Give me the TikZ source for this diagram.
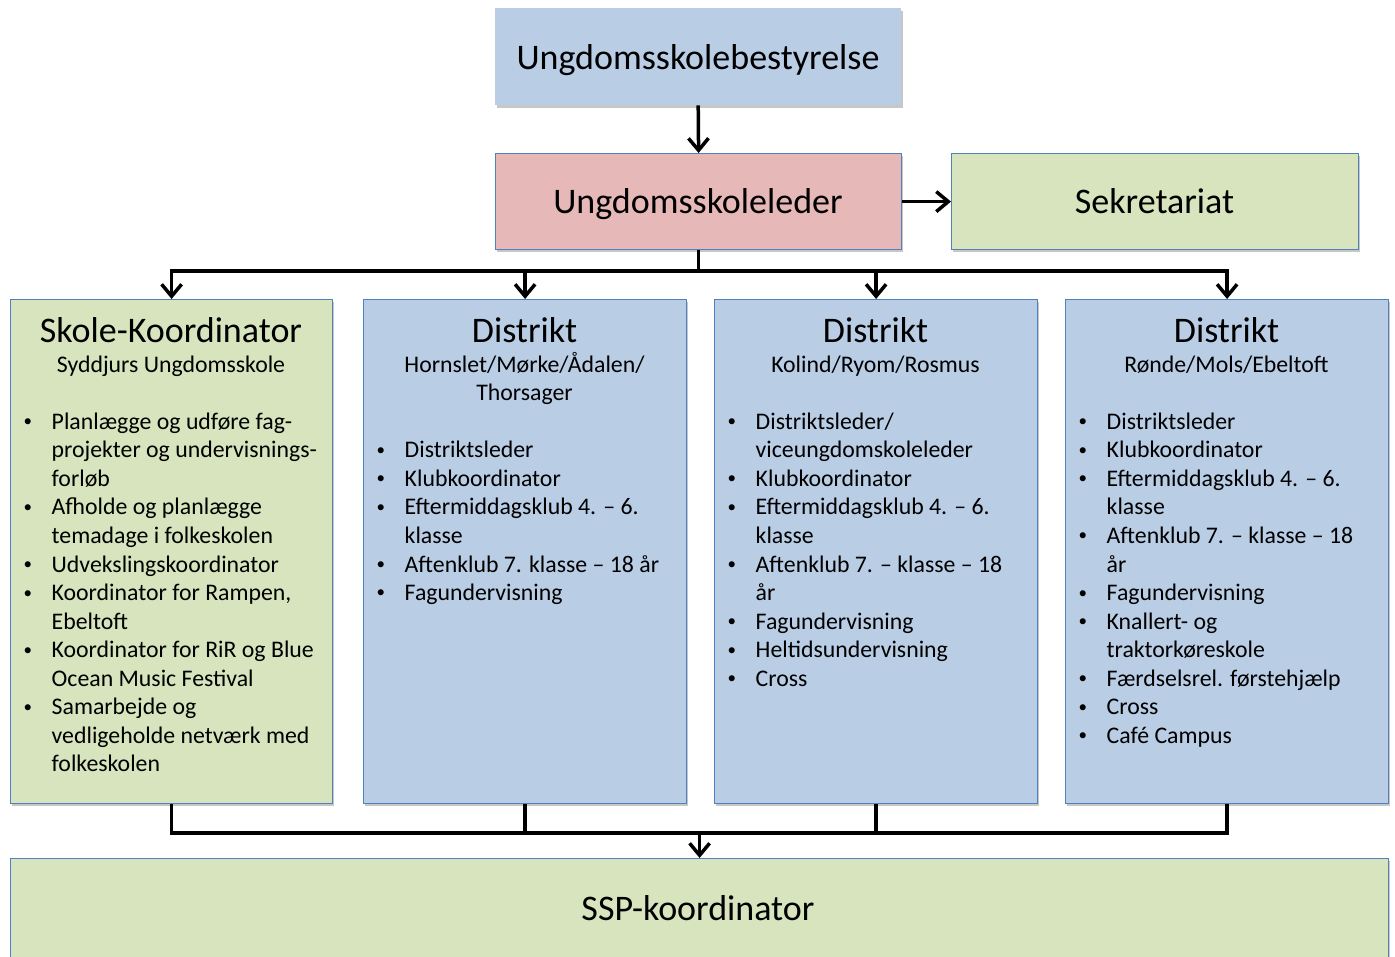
\documentclass[tikz,border=0pt]{standalone}
\usepackage{fontspec}
\setmainfont{Carlito}
\usetikzlibrary{arrows.meta,shadows}
\definecolor{boxblue}{HTML}{B9CDE5}
\definecolor{boxpink}{HTML}{E6B9B8}
\definecolor{boxgreen}{HTML}{D7E4BD}
\definecolor{bordblue}{HTML}{4F81BD}
\newcommand{\bigfont}{\fontsize{36pt}{42pt}\selectfont}
\newcommand{\smallfont}{\fontsize{23.8pt}{28.55pt}\selectfont}
\newcommand{\bul}{\hspace*{1.5pt}\raisebox{2.6pt}{\fontsize{17pt}{17pt}\selectfont •}}
\newenvironment{blist}{\begin{tabular}[t]{@{}p{29.5pt}@{}l@{}}}{\end{tabular}}
\tikzset{
  boxbase/.style={rectangle, inner sep=0pt, anchor=north west,
    drop shadow={shadow xshift=1.5pt, shadow yshift=-2.5pt, opacity=0.22, fill=black}},
  plainbox/.style={boxbase, fill=boxblue},
  bluebox/.style={boxbase, fill=boxblue, draw=bordblue, line width=1.2pt},
  pinkbox/.style={boxbase, fill=boxpink, draw=bordblue, line width=1.2pt},
  greenbox/.style={boxbase, fill=boxgreen, draw=bordblue, line width=1.2pt},
  bigtext/.style={inner sep=0pt, anchor=base, font=\bigfont},
  subtext/.style={inner sep=0pt, anchor=base, font=\smallfont},
  listtext/.style={inner sep=0pt, anchor=base west, font=\smallfont, align=left},
  conn/.style={line width=3.5pt, black},
  arr/.style={conn, -{Straight Barb[length=12pt,width=20pt,line width=3.5pt]}},
}
\begin{document}
\begin{tikzpicture}[x=1pt, y=-1pt]
\useasboundingbox (0,0) rectangle (1395,956);
\begin{scope}
\clip (0,0) rectangle (1395,956);
% top boxes
\node[plainbox, minimum width=406pt, minimum height=97pt] (board) at (495,8) {};
\node[pinkbox, minimum width=406pt, minimum height=96pt] (leader) at (495,153) {};
\node[greenbox, minimum width=407pt, minimum height=96pt] (secr) at (951,153) {};
\node[bigtext] (boardt) at (698,69.3) {Ungdomsskolebestyrelse};
\node[bigtext] (leadert) at (698,213.3) {Ungdomsskoleleder};
\node[bigtext] (secrt) at (1154.5,213.3) {Sekretariat};
% four columns
\node[greenbox, minimum width=322pt, minimum height=504pt] (b1) at (10,299) {};
\node[bluebox, minimum width=323pt, minimum height=504pt] (b2) at (363,299) {};
\node[bluebox, minimum width=323pt, minimum height=504pt] (b3) at (714,299) {};
\node[bluebox, minimum width=323pt, minimum height=504pt] (b4) at (1065,299) {};
% bottom box
\node[greenbox, minimum width=1378pt, minimum height=110pt] (ssp) at (10,858) {};
\node[bigtext] (sspt) at (698,920) {SSP-koordinator};
% titles
\node[bigtext] (t1) at (171,342) {Skole-Koordinator};
\node[subtext] (s1) at (171,372.3) {Syddjurs Ungdomsskole};
\node[bigtext] (t2) at (524.5,342) {Distrikt};
\node[subtext] (s2) at (524.5,372.3) {Hornslet/Mørke/Ådalen/};
\node[subtext] (s2b) at (524.5,400.8) {Thorsager};
\node[bigtext] (t3) at (875.5,342) {Distrikt};
\node[subtext] (s3) at (875.5,372.3) {Kolind/Ryom/Rosmus};
\node[bigtext] (t4) at (1226.5,342) {Distrikt};
\node[subtext] (s4) at (1226.5,372.3) {Rønde/Mols/Ebeltoft};
% lists
\node[listtext] (l1) at (22,429.3) {\begin{blist}
\bul & Planlægge og udføre fag-\\
  & projekter og undervisnings-\\
  & forløb\\
\bul & Afholde og planlægge\\
  & temadage i folkeskolen\\
\bul & Udvekslingskoordinator\\
\bul & Koordinator for Rampen,\\
  & Ebeltoft\\
\bul & Koordinator for RiR og Blue\\
  & Ocean Music Festival\\
\bul & Samarbejde og\\
  & vedligeholde netværk med\\
  & folkeskolen
\end{blist}};
\node[listtext] (l2) at (375,457.8) {\begin{blist}
\bul & Distriktsleder\\
\bul & Klubkoordinator\\
\bul & Eftermiddagsklub 4. – 6.\\
  & klasse\\
\bul & Aftenklub 7. klasse – 18 år\\
\bul & Fagundervisning
\end{blist}};
\node[listtext] (l3) at (726,429.3) {\begin{blist}
\bul & Distriktsleder/\\
  & viceungdomskoleleder\\
\bul & Klubkoordinator\\
\bul & Eftermiddagsklub 4. – 6.\\
  & klasse\\
\bul & Aftenklub 7. – klasse – 18\\
  & år\\
\bul & Fagundervisning\\
\bul & Heltidsundervisning\\
\bul & Cross
\end{blist}};
\node[listtext] (l4) at (1077,429.3) {\begin{blist}
\bul & Distriktsleder\\
\bul & Klubkoordinator\\
\bul & Eftermiddagsklub 4. – 6.\\
  & klasse\\
\bul & Aftenklub 7. – klasse – 18\\
  & år\\
\bul & Fagundervisning\\
\bul & Knallert- og\\
  & traktorkøreskole\\
\bul & Færdselsrel. førstehjælp\\
\bul & Cross\\
\bul & Café Campus
\end{blist}};
% connectors
\draw[arr] (board.south) -- (leader.north);
\draw[arr] (leader.east) -- (secr.west);
\coordinate (bustop) at (leader.south |- 0,271);
\draw[conn] (leader.south) -- (bustop);
\draw[conn, line cap=rect] (b1.north |- 0,271) -- (b4.north |- 0,271);
\foreach \b in {b1,b2,b3,b4} {
  \draw[arr] (\b.north |- 0,271) -- (\b.north);
  \draw[conn] (\b.south) -- (\b.south |- 0,833);
}
\coordinate (busbot) at (ssp.north |- 0,833);
\draw[conn, line cap=rect] (b1.south |- 0,833) -- (b4.south |- 0,833);
\draw[arr] (busbot) -- (ssp.north);
\end{scope}
\end{tikzpicture}
\end{document}
